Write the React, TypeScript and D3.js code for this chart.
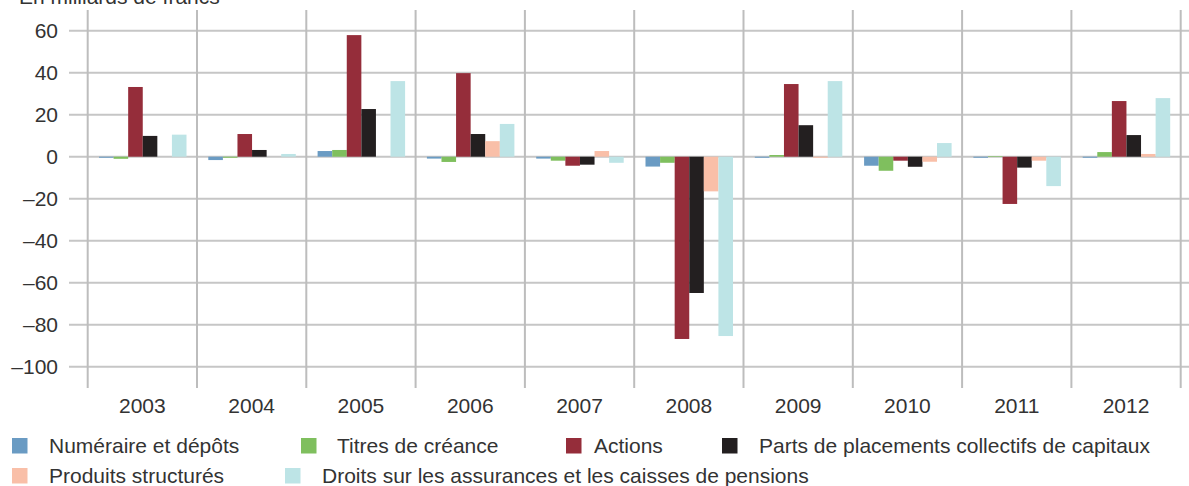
import { scaleBand, scaleLinear } from 'd3';

const years = ['2003', '2004', '2005', '2006', '2007', '2008', '2009', '2010', '2011', '2012'];
const seriesNames = [
  'Numéraire et dépôts',
  'Titres de créance',
  'Actions',
  'Parts de placements collectifs de capitaux',
  'Produits structurés',
  'Droits sur les assurances et les caisses de pensions',
];
const colors = ['#6a9bc3', '#7fbf5e', '#952d3a', '#231f20', '#f9bfa8', '#bde4e6'];

const numeraire = [-0.5, -1.6, 2.7, -0.9, -0.9, -4.7, -0.5, -4.3, -0.5, -0.5];
const titres = [-1, -0.5, 3.2, -2.5, -1.9, -2.9, 0.8, -6.7, 0.3, 2.2];
const actions = [33.2, 10.8, 57.9, 39.8, -4.3, -86.8, 34.6, -1.9, -22.5, 26.5];
const parts = [9.9, 3.2, 22.7, 10.8, -3.8, -64.9, 15, -4.8, -5.2, 10.3];
const produits = [0, 0, 0, 7.4, 2.7, -16.5, -0.5, -2.4, -1.9, 1.3];
const droits = [10.5, 1.3, 36.0, 15.6, -2.9, -85.4, 36.0, 6.5, -14, 27.9];
const seriesValues = [numeraire, titres, actions, parts, produits, droits];

const yTicks = [60, 40, 20, 0, -20, -40, -60, -80, -100];

const W = 1189;
const H = 486;
const font = '"Liberation Sans", Arial, sans-serif';
const textColor = '#333';

// legend rows: [series index, square x, text x]
const legendRows = [
  { y: 438, items: [[0, 12, 49], [1, 301, 337], [2, 566, 594], [3, 722, 759]] },
  { y: 468, items: [[4, 12, 49], [5, 285, 322]] },
];

export default function App() {
  const x0 = scaleBand().domain(years).range([87.7, 1180.7]);
  const x1 = scaleBand()
    .domain(seriesNames)
    .range([11.3, x0.bandwidth() - 10.5]);
  const y = scaleLinear().domain([-100, 60]).range([366.7, 30.7]);

  const bounds = years.map((d) => x0(d) as number).concat([1180.7]);

  return (
    <svg width={W} height={H} style={{ position: 'absolute', left: 0, top: 0 }}>
      <rect width={W} height={H} fill="#fff" />
      <text x={19} y={4} fontFamily={font} fontSize={21} fill={textColor}>
        En milliards de francs
      </text>
      {yTicks.map((t) => (
        <g key={t}>
          <line x1={69} x2={W} y1={y(t)} y2={y(t)} stroke="#c6c6c6" strokeWidth={2} />
          <text
            x={58}
            y={y(t)}
            dy="0.36em"
            textAnchor="end"
            fontFamily={font}
            fontSize={21}
            fill={textColor}
          >
            {t < 0 ? '\u2013' + Math.abs(t) : t}
          </text>
        </g>
      ))}
      {bounds.map((b, i) => (
        <line key={i} x1={b} x2={b} y1={10} y2={388} stroke="#bdbdbd" strokeWidth={2} />
      ))}
      {years.map((yr, i) => (
        <g key={yr} transform={`translate(${x0(yr)},0)`}>
          {seriesNames.map((s, j) => {
            const v = seriesValues[j][i];
            if (v === 0) return null;
            return (
              <rect
                key={s}
                x={x1(s)}
                width={x1.bandwidth()}
                y={y(Math.max(0, v))}
                height={Math.abs(y(v) - y(0))}
                fill={colors[j]}
              />
            );
          })}
          <text
            x={x0.bandwidth() / 2}
            y={413}
            textAnchor="middle"
            fontFamily={font}
            fontSize={21}
            fill={textColor}
          >
            {yr}
          </text>
        </g>
      ))}
      {legendRows.map((row, r) => (
        <g key={r}>
          {row.items.map(([si, sx, tx]) => (
            <g key={si}>
              <rect x={sx} y={row.y} width={15.5} height={15.5} fill={colors[si]} />
              <text x={tx} y={row.y + 15} fontFamily={font} fontSize={21} fill={textColor}>
                {seriesNames[si]}
              </text>
            </g>
          ))}
        </g>
      ))}
    </svg>
  );
}
